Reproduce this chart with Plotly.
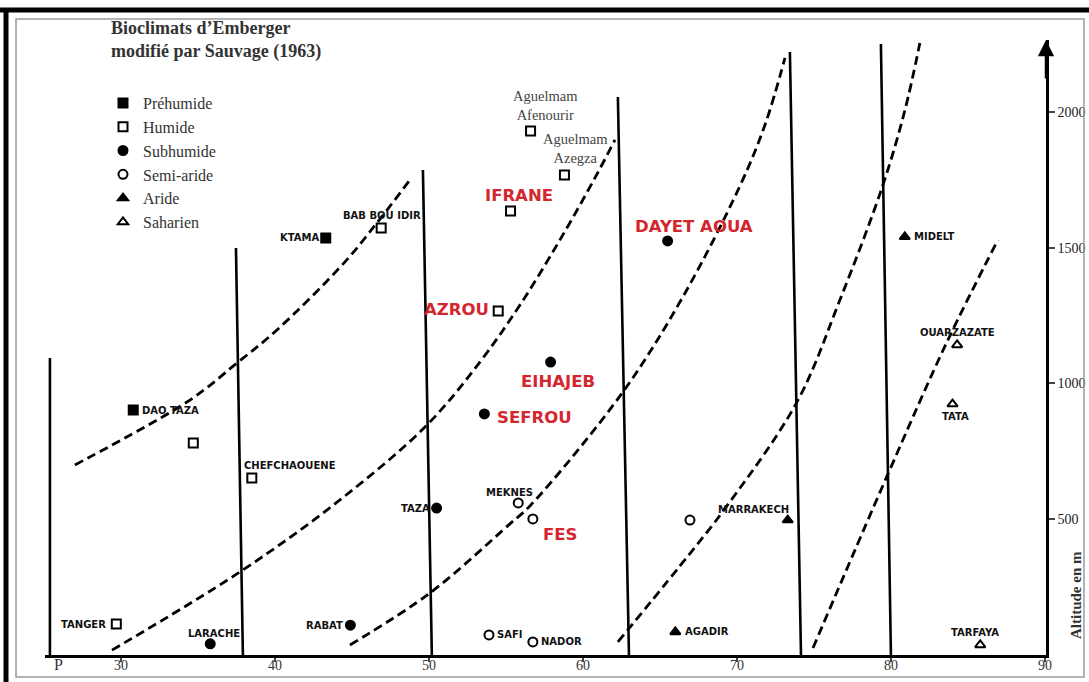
import plotly.graph_objects as go

# --- data (P = pluviothermic quotient, altitude in m) ---
classes = ["Préhumide", "Humide", "Subhumide", "Semi-aride", "Aride", "Saharien"]

station_names = ["DAO TAZA", "KTAMA",
                 "BAB BOU IDIR", "", "CHEFCHAOUENE", "TANGER", "Aguelmam<br>Afenourir",
                 "Aguelmam<br>Azegza", "IFRANE", "AZROU",
                 "DAYET AOUA", "EIHAJEB", "SEFROU", "TAZA", "RABAT", "LARACHE",
                 "MEKNES", "FES", "", "SAFI", "NADOR",
                 "AGADIR", "MARRAKECH", "MIDELT",
                 "OUARZAZATE", "TATA", "TARFAYA"]
station_p = [30.8, 43.3,
             46.9, 34.7, 38.5, 29.7, 56.6, 58.8, 55.3, 54.5,
             65.5, 57.9, 53.6, 50.5, 44.9, 35.8,
             55.8, 56.75, 66.95, 53.9, 56.75,
             66.0, 73.3, 80.9,
             84.3, 84.0, 85.8]
station_alt = [902, 1536,
               1573, 781, 652, 114, 1930, 1768, 1635, 1267,
               1525, 1079, 888, 541, 110, 41,
               560, 501, 497, 74, 48,
               85, 497, 1540,
               1142, 924, 37]
station_class = ["Préhumide"] * 2 + ["Humide"] * 8 + ["Subhumide"] * 6 + \
                ["Semi-aride"] * 5 + ["Aride"] * 3 + ["Saharien"] * 3

# dashed limits between bioclimatic stages
curve1_p = [27.01, 34.48, 37.53, 40.13, 44.55, 46.88, 48.77]
curve1_alt = [700, 939, 1075, 1197, 1448, 1610, 1750]
curve2_p = [29.42, 37.73, 44.22, 49.87, 53.31, 55.91, 58.51, 60.78, 62.08]
curve2_alt = [18, 306, 571, 847, 1079, 1289, 1529, 1757, 1897]
curve3_p = [44.87, 50.06, 55.26, 56.56, 62.60, 66.49, 70.19, 71.82, 73.12]
curve3_alt = [37, 228, 483, 549, 969, 1319, 1727, 1952, 2199]
curve4_p = [62.27, 66.30, 69.35, 73.90, 76.69, 79.48, 80.91, 81.88]
curve4_alt = [48, 328, 549, 932, 1308, 1731, 2007, 2254]
curve5_p = [74.94, 79.81, 83.64, 86.95]
curve5_alt = [26, 667, 1153, 1529]
curves = [(curve1_p, curve1_alt), (curve2_p, curve2_alt), (curve3_p, curve3_alt),
          (curve4_p, curve4_alt), (curve5_p, curve5_alt)]

# solid limits (slightly skewed in the scan)
limit_p_bottom = [25.39, 37.92, 50.19, 62.99, 74.16, 80.0]
limit_p_top = [25.39, 37.47, 49.61, 62.27, 73.44, 79.35]
limit_alt_top = [1094, 1499, 1786, 2055, 2221, 2250]

x_ticks = [30, 40, 50, 60, 70, 80, 90]
alt_ticks = [500, 1000, 1500, 2000]

# --- styles ---
symbols = {"Préhumide": "square", "Humide": "square-open", "Subhumide": "circle",
           "Semi-aride": "circle-open", "Aride": "triangle-up", "Saharien": "triangle-up-open"}
red_names = {"IFRANE", "AZROU", "DAYET AOUA", "EIHAJEB", "SEFROU", "FES"}
# (xanchor, xshift, yshift)
label_place = {
    "DAO TAZA": ("left", 7, 0), "KTAMA": ("right", -5, 0),
    "BAB BOU IDIR": ("center", 1, 12), "CHEFCHAOUENE": ("left", -10, 12),
    "TANGER": ("right", -8, 0), "Aguelmam<br>Afenourir": ("center", 15, 25),
    "Aguelmam<br>Azegza": ("center", 11, 26), "IFRANE": ("center", 8, 16),
    "AZROU": ("right", -7, 1), "DAYET AOUA": ("center", 26, 14),
    "EIHAJEB": ("center", 7, -19), "SEFROU": ("left", 11, -4),
    "TAZA": ("right", -5, 0), "RABAT": ("right", -5, 0), "LARACHE": ("center", 4, 10),
    "MEKNES": ("center", -9, 10), "FES": ("center", 27, -16), "SAFI": ("left", 6, 0),
    "NADOR": ("left", 6, 0), "AGADIR": ("left", 8, 0), "MARRAKECH": ("right", 3, 11),
    "MIDELT": ("left", 7, 0), "OUARZAZATE": ("center", 0, 12), "TATA": ("center", 3, -12),
    "TARFAYA": ("center", -5, 12),
}

L, R, T, B = 45, 43, 40, 27
W, H = 1089, 682


def fx(px):
    return (px - L) / (W - L - R)


def fy(py):
    return (H - B - py) / (H - B - T)


fig = go.Figure()

for cp, ca in curves:
    fig.add_trace(go.Scatter(x=cp, y=ca, mode="lines", showlegend=False, hoverinfo="skip",
                             line=dict(color="black", width=2.8, dash="9px,5px",
                                       shape="spline", smoothing=1)))

for pb, pt, at in zip(limit_p_bottom, limit_p_top, limit_alt_top):
    fig.add_trace(go.Scatter(x=[pb, pt], y=[0, at], mode="lines", showlegend=False,
                             hoverinfo="skip", line=dict(color="black", width=2.6)))

for c in classes:
    idx = [k for k, s in enumerate(station_class) if s == c]
    fig.add_trace(go.Scatter(
        x=[station_p[k] for k in idx], y=[station_alt[k] for k in idx],
        mode="markers", name=c,
        text=[station_names[k] for k in idx],
        marker=dict(symbol=symbols[c], size=9, color="black",
                    line=dict(color="black", width=2)),
        cliponaxis=False))

for name, p, a in zip(station_names, station_p, station_alt):
    if not name:
        continue
    xa, xs, ys = label_place[name]
    if name in red_names:
        font = dict(family="DejaVu Sans", size=16.5, color="#d3262e")
        text = "<b>" + name + "</b>"
    elif name.startswith("Aguelmam"):
        font = dict(family="Liberation Serif", size=14.5, color="#444")
        text = name
    else:
        font = dict(family="DejaVu Sans", size=10, color="#111")
        text = "<b>" + name + "</b>"
    fig.add_annotation(x=p, y=a, text=text, showarrow=False, xanchor=xa,
                       yanchor="middle", xshift=xs, yshift=ys, font=font)

# title, axis labels, arrow
fig.add_annotation(x=fx(109), y=fy(16), xref="paper", yref="paper", xanchor="left",
                   yanchor="top", align="left", showarrow=False,
                   text="<b>Bioclimats d’Emberger<br>modifié par Sauvage (1963)</b>",
                   font=dict(family="Liberation Serif", size=18, color="#333"))
fig.add_annotation(x=fx(58), y=fy(664), xref="paper", yref="paper", showarrow=False,
                   xanchor="center", yanchor="middle",
                   text="P", font=dict(family="Liberation Serif", size=16, color="#333"))
fig.add_annotation(x=fx(1076), y=fy(595), xref="paper", yref="paper", showarrow=False,
                   xanchor="center", yanchor="middle",
                   text="<b>Altitude en m</b>", textangle=-90,
                   font=dict(family="Liberation Serif", size=15, color="#333"))
fig.add_annotation(x=1, y=1, xref="paper", yref="paper", ax=0, ay=40, text="",
                   showarrow=True, arrowhead=2, arrowsize=1.3, arrowwidth=2.5,
                   arrowcolor="black")

# x tick labels sit close to the base line in the scan
for v in x_ticks:
    fig.add_annotation(x=v, y=fy(665), yref="paper", text=str(v), showarrow=False,
                       xanchor="center", yanchor="middle",
                       font=dict(family="Liberation Serif", size=14, color="#333"))

# scan frame
fig.add_shape(type="rect", xref="paper", yref="paper", x0=fx(16), x1=fx(1084),
              y0=fy(677), y1=fy(19), line=dict(color="#9a9a9a", width=1.5))
fig.add_shape(type="line", xref="paper", yref="paper", x0=fx(0), x1=fx(1089),
              y0=fy(10), y1=fy(10), line=dict(color="black", width=5))
fig.add_shape(type="line", xref="paper", yref="paper", x0=fx(6), x1=fx(6),
              y0=fy(8), y1=fy(682), line=dict(color="black", width=5))

fig.update_layout(
    width=W, height=H, margin=dict(l=L, r=R, t=T, b=B, autoexpand=False),
    paper_bgcolor="white", plot_bgcolor="white",
    showlegend=True,
    legend=dict(x=fx(103), y=fy(86), xanchor="left", yanchor="top",
                bgcolor="rgba(0,0,0,0)", tracegroupgap=0,
                font=dict(family="Liberation Serif", size=16, color="#333")),
    xaxis=dict(range=[25.07, 90.07], tickvals=x_ticks, ticks="outside", ticklen=4,
               tickwidth=1.5, showline=True, linewidth=2.5, linecolor="black",
               showticklabels=False,
               showgrid=False, zeroline=False, automargin=False),
    yaxis=dict(range=[0, 2265], side="right", tickvals=alt_ticks, ticks="outside",
               ticklen=6, tickwidth=1.5, showline=True, linewidth=2.5, linecolor="black",
               showgrid=False, zeroline=False, automargin=False,
               tickfont=dict(family="Liberation Serif", size=14, color="#222")),
)

fig.write_html("out.html", config={"displayModeBar": False},
               post_script="document.body.style.margin='0px';")
